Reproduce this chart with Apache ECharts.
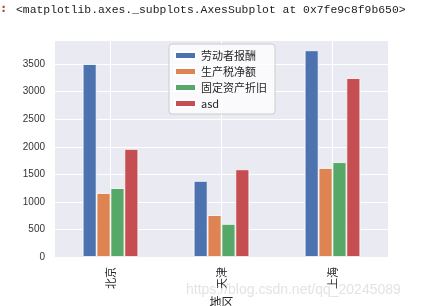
<!DOCTYPE html>
<html>
<head>
<meta charset="utf-8">
<script src="https://cdn.jsdelivr.net/npm/echarts@6/dist/echarts.min.js"></script>
<style>
html,body{margin:0;padding:0;background:#fff;}
#c{width:436px;height:306px;}
</style>
</head>
<body>
<div id="c"></div>
<script>
const categories = ['北京', '天津', '上海'];
const laborPay = [3500, 1380, 3750];
const prodTax = [1160, 760, 1615];
const depreciation = [1250, 600, 1720];
const asd = [1960, 1590, 3245];
const seriesNames = ['劳动者报酬', '生产税净额', '固定资产折旧', 'asd'];
const yTicks = [0, 500, 1000, 1500, 2000, 2500, 3000, 3500];

const colors = ['#4C72B0', '#DD8452', '#55A868', '#C44E52'];
const values = [laborPay, prodTax, depreciation, asd];

const chart = echarts.init(document.getElementById('c'), null, {renderer: 'canvas'});
const series = values.map((v, i) => ({
  name: seriesNames[i],
  type: 'bar',
  data: v,
  barWidth: 13.9,
  barGap: '0%',
  itemStyle: {color: colors[i], borderColor: '#fff', borderWidth: 0.8},
  xAxisIndex: 0,
  yAxisIndex: 0
}));

chart.setOption({
  animation: false,
  backgroundColor: '#fff',
  color: colors,
  graphic: [
    {type: 'text', left: 0, top: 3, style: {text: ':', fill: '#b5402a', font: 'bold 12px "DejaVu Sans Mono"'}},
    {type: 'text', left: 16, top: 4, style: {text: '<matplotlib.axes._subplots.AxesSubplot at 0x7fe9c8f9b650>', fill: '#222', font: '11.4px "Liberation Mono"'}},
    {type: 'text', left: 186, top: 283, z: 100, style: {text: 'https://blog.csdn.net/qq_20245089', fill: 'rgba(200,200,200,0.5)', font: '14px "Liberation Sans"'}}
  ],
  grid: {left: 55, right: 48, top: 40, bottom: 49, show: true, backgroundColor: '#EAEAF2', borderWidth: 0, containLabel: false, outerBoundsMode: 'none'},
  legend: {
    orient: 'vertical',
    left: 169, top: 44,
    padding: [5, 8, 4, 5],
    itemWidth: 21, itemHeight: 7, itemGap: 3,
    backgroundColor: 'rgba(255,255,255,0.75)',
    borderColor: '#cccccc', borderWidth: 1, borderRadius: 3,
    textStyle: {fontSize: 11, color: '#262626', fontFamily: '"Noto Sans CJK SC"', lineHeight: 13},
    icon: 'rect',
    data: seriesNames
  },
  xAxis: [{
    type: 'category',
    data: categories,
    name: '地区',
    nameLocation: 'middle',
    nameGap: 34,
    nameTextStyle: {fontSize: 12, color: '#262626', fontFamily: '"Noto Sans CJK SC"'},
    axisLine: {show: false},
    axisTick: {show: false},
    splitLine: {show: false},
    axisLabel: {rotate: 90, fontSize: 11, color: '#262626', margin: 10, fontFamily: '"Noto Sans CJK SC"'}
  }, {
    type: 'category',
    data: ['', '', '', '', '', '', ''],
    boundaryGap: false,
    position: 'bottom',
    axisLine: {show: false},
    axisTick: {show: false},
    axisLabel: {show: false},
    splitLine: {show: true, interval: function (idx) { return idx % 2 === 1; }, lineStyle: {color: '#fff', width: 1}}
  }],
  yAxis: {
    type: 'value',
    min: 0,
    max: 3937,
    interval: 500,
    axisLine: {show: false},
    axisTick: {show: false},
    splitLine: {lineStyle: {color: '#fff', width: 1}},
    axisLabel: {
      fontSize: 10, color: '#333', margin: 10, fontFamily: '"Liberation Sans"',
      showMaxLabel: false,
      formatter: function (v) { return yTicks.indexOf(v) >= 0 ? String(v) : ''; }
    }
  },
  series: series
});
</script>
</body>
</html>
